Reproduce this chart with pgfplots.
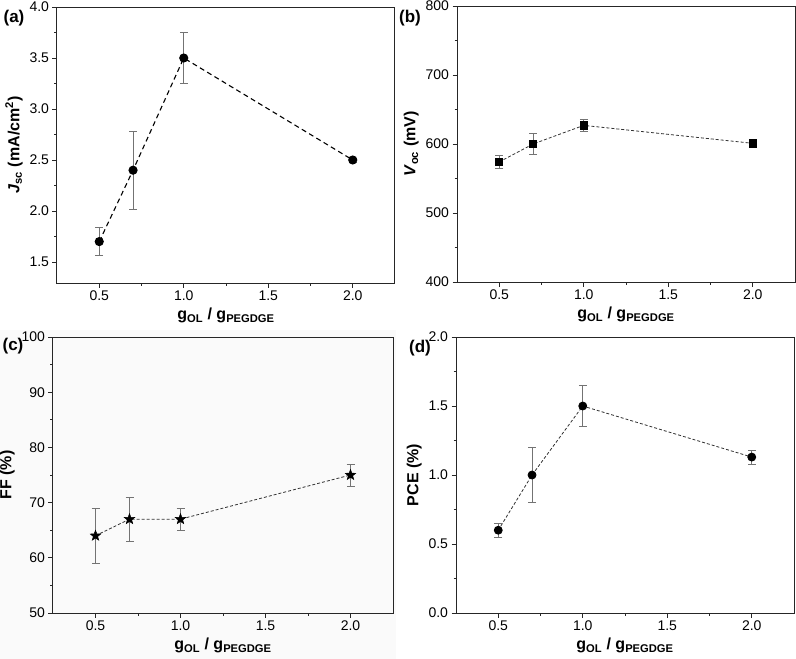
\documentclass[border=0pt]{standalone}
\usepackage{fontspec}
\setmainfont{Liberation Sans}
\usepackage{pgfplots}
\pgfplotsset{compat=1.18}
\pgfdeclareplotmark{fstar}{%
 \pgfpathmoveto{\pgfpointpolar{90}{\pgfplotmarksize}}%
 \pgfpathlineto{\pgfpointpolar{126}{0.42\pgfplotmarksize}}%
 \pgfpathlineto{\pgfpointpolar{162}{\pgfplotmarksize}}%
 \pgfpathlineto{\pgfpointpolar{198}{0.42\pgfplotmarksize}}%
 \pgfpathlineto{\pgfpointpolar{234}{\pgfplotmarksize}}%
 \pgfpathlineto{\pgfpointpolar{270}{0.42\pgfplotmarksize}}%
 \pgfpathlineto{\pgfpointpolar{306}{\pgfplotmarksize}}%
 \pgfpathlineto{\pgfpointpolar{342}{0.42\pgfplotmarksize}}%
 \pgfpathlineto{\pgfpointpolar{18}{\pgfplotmarksize}}%
 \pgfpathlineto{\pgfpointpolar{54}{0.42\pgfplotmarksize}}%
 \pgfpathclose\pgfusepathqfillstroke}
\pgfplotsset{
 panel/.style={
  scale only axis, width=338pt, height=276pt, anchor=south west,
  axis line style={line width=1pt, black!85},
  tick style={black!85, line width=0.8pt},
  tick align=outside, xtick pos=bottom, ytick pos=left,
  major tick length=4.5pt, minor tick length=2.5pt,
  minor tick num=1,
  xmin=0.25, xmax=2.25, xtick={0.5,1,1.5,2},
  /pgf/number format/assume math mode=true,
  ticklabel style={font=\fontsize{14}{14}\selectfont},
  xticklabel style={/pgf/number format/fixed, /pgf/number format/fixed zerofill, /pgf/number format/precision=1},
  label style={font=\fontsize{16}{18}\selectfont\bfseries},
  xlabel={g\textsubscript{OL} / g\textsubscript{PEGDGE}},
 },
 ebars/.style={error bars/.cd, y dir=both, y explicit,
  error bar style={black!55, line width=0.8pt, solid},
  error mark options={rotate=90, black!55, mark size=4pt, line width=0.8pt, solid}},
}
\begin{document}
\begin{tikzpicture}
\useasboundingbox (0,0) rectangle (796pt,-659pt);
\fill[black!2] (0,-330pt) rectangle (396pt,-659pt);
% (a)
\begin{axis}[panel, at={(57pt,-283pt)},
  ymin=1.294, ymax=4.0, ytick={1.5,2,...,4},
  yticklabel style={/pgf/number format/fixed, /pgf/number format/fixed zerofill, /pgf/number format/precision=1},
  ylabel={\textit{J}\textsubscript{sc} (mA/cm\textsuperscript{2})}]
\addplot[black, dash pattern=on 5pt off 3.5pt, line width=1.1pt, mark=*, mark size=4pt, mark options={solid}, ebars]
 table[x=x, y=y, y error=e, row sep=\\] {x y e\\ 0.5 1.70 0.14\\ 0.7 2.40 0.38\\ 1.0 3.50 0.25\\ 2.0 2.50 0.02\\};
\end{axis}
% (b)
\begin{axis}[panel, at={(457pt,-282pt)},
  ymin=400, ymax=800, ytick={400,500,...,800},
  ylabel={\textit{V}\textsubscript{oc} (mV)}]
\addplot[black!80, densely dashed, line width=0.8pt, mark=square*, mark size=3.6pt, mark options={solid, black}, ebars]
 table[x=x, y=y, y error=e, row sep=\\] {x y e\\ 0.5 574 10\\ 0.7 600 15\\ 1.0 627 9\\ 2.0 601 5\\};
\end{axis}
% (c)
\begin{axis}[panel, at={(53pt,-613pt)}, width=340pt,
  ymin=50, ymax=100, ytick={50,60,...,100},
  ylabel={FF (\%)}]
\addplot[black!80, densely dashed, line width=0.8pt, mark=fstar, mark size=5.5pt, mark options={solid, black, fill=black, line width=0.5pt}, ebars]
 table[x=x, y=y, y error=e, row sep=\\] {x y e\\ 0.5 64 5\\ 0.7 67 4\\ 1.0 67 2\\ 2.0 75 2\\};
\end{axis}
% (d)
\begin{axis}[panel, at={(456pt,-613pt)},
  ymin=0, ymax=2, ytick={0,0.5,...,2},
  yticklabel style={/pgf/number format/fixed, /pgf/number format/fixed zerofill, /pgf/number format/precision=1},
  ylabel={PCE (\%)}]
\addplot[black!80, densely dashed, line width=0.8pt, mark=*, mark size=4pt, mark options={solid, black}, ebars]
 table[x=x, y=y, y error=e, row sep=\\] {x y e\\ 0.5 0.60 0.05\\ 0.7 1.00 0.20\\ 1.0 1.50 0.15\\ 2.0 1.13 0.05\\};
\end{axis}
\node[font=\fontsize{17}{17}\selectfont\bfseries] at (14pt,-18pt) {(a)};
\node[font=\fontsize{17}{17}\selectfont\bfseries] at (410pt,-18pt) {(b)};
\node[font=\fontsize{17}{17}\selectfont\bfseries] at (13pt,-346pt) {(c)};
\node[font=\fontsize{17}{17}\selectfont\bfseries] at (420pt,-348pt) {(d)};
\end{tikzpicture}
\end{document}
